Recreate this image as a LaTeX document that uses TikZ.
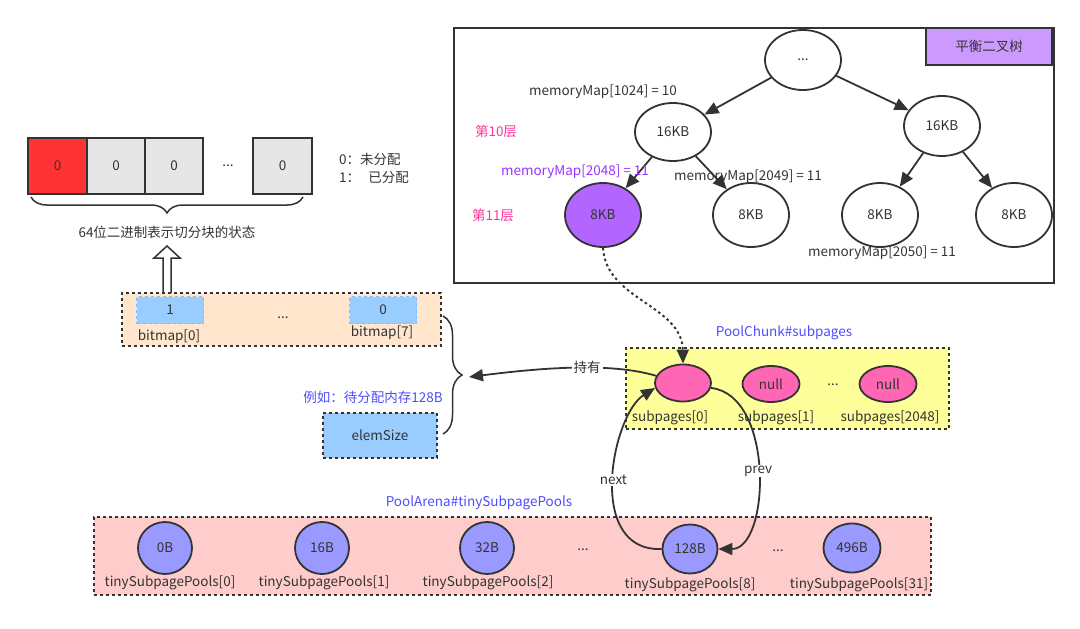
\documentclass[tikz,border=0pt]{standalone}
\usepackage{fontspec}
\setmainfont{Noto Sans CJK SC}
\usetikzlibrary{arrows.meta,shapes.geometric,decorations.pathreplacing}
\definecolor{ink}{HTML}{333333}
\definecolor{cellred}{HTML}{FF3333}
\definecolor{cellgray}{HTML}{E6E6E6}
\definecolor{treepurple}{HTML}{B266FF}
\definecolor{tagpurple}{HTML}{CC99FF}
\definecolor{bmorange}{HTML}{FFE6CC}
\definecolor{lblue}{HTML}{99CCFF}
\definecolor{lbluedash}{HTML}{7FBFFF}
\definecolor{lyellow}{HTML}{FFFF99}
\definecolor{lpink}{HTML}{FFCCCC}
\definecolor{spink}{HTML}{FF66B3}
\definecolor{pviolet}{HTML}{9999FF}
\definecolor{titleblue}{HTML}{4D4DFF}
\definecolor{magenta}{HTML}{FF3399}
\definecolor{mpurple}{HTML}{9933FF}
\begin{document}
\begin{tikzpicture}[x=1pt,y=-1pt,
  every node/.style={font=\fontsize{13.5}{16}\selectfont, text=ink, inner sep=0pt},
  tnode/.style={ellipse, draw=ink, line width=1.8pt, fill=white, minimum width=76pt, minimum height=60pt},
  arr/.style={draw=ink, line width=1.8pt, -{Triangle[length=14pt,width=12pt]}},
  dbox/.style={rectangle, draw=ink, line width=2pt, dash pattern=on 3pt off 3pt, anchor=north west},
  cellbox/.style={rectangle, draw=ink, line width=2pt, minimum height=56pt, anchor=north west},
  bluebox/.style={rectangle, fill=lblue, draw=lbluedash, line width=1pt, dashed, minimum width=67pt, minimum height=27pt, anchor=north west},
  subell/.style={ellipse, draw=ink, line width=1.8pt, fill=spink, minimum width=56pt, minimum height=37pt},
  poolell/.style={ellipse, draw=ink, line width=1.8pt, fill=pviolet, minimum width=54pt, minimum height=52pt},
  hint/.style={text=titleblue}
]
\useasboundingbox (0,0) rectangle (1080,629);

% ---------- tree panel ----------
\node[rectangle, draw=ink, line width=2pt, minimum width=600pt, minimum height=255pt, anchor=north west] (treebox) at (453,27) {};
\node[rectangle, draw=ink, line width=2pt, fill=tagpurple, minimum width=126pt, minimum height=37pt, anchor=north east] (tag) at (1053,27) {平衡二叉树};

\node[tnode] (root) at (803,60) {...};
\node[tnode, minimum height=58pt] (l16) at (673,132) {16KB};
\node[tnode] (r16) at (942,126) {16KB};
\node[tnode, fill=treepurple, minimum height=64pt] (p8) at (603,215) {8KB};
\node[tnode, minimum height=64pt] (a8) at (751,215) {8KB};
\node[tnode, minimum height=64pt] (b8) at (880,215) {8KB};
\node[tnode, minimum height=64pt] (c8) at (1014,215) {8KB};

\draw[arr] (root) -- (l16);
\draw[arr] (root) -- (r16);
\draw[arr] (l16) -- (p8);
\draw[arr] (l16) -- (a8);
\draw[arr] (r16) -- (b8);
\draw[arr] (r16) -- (c8);

\node (mm1024) at (603,92) {memoryMap[1024] = 10};
\node[text=magenta] (lv10) at (496,131) {第10层};
\node[text=mpurple] (mm2048) at (575,172) {memoryMap[2048] = 11};
\node (mm2049) at (748,177) {memoryMap[2049] = 11};
\node[text=magenta] (lv11) at (493,215) {第11层};
\node (mm2050) at (882,253) {memoryMap[2050] = 11};

% ---------- 64-bit cells ----------
\node[cellbox, fill=cellred, minimum width=59pt] (c0) at (27,137) {};
\node at (c0.center) {0};
\node[cellbox, fill=cellgray, minimum width=58pt] (c1) at (86,137) {0};
\node[cellbox, fill=cellgray, minimum width=58pt] (c2) at (144,137) {0};
\node (cdots) at (228,166) {...};
\node[cellbox, fill=cellgray, minimum width=59pt] (c63) at (252,137) {0};
\node[anchor=west] (leg0) at (339,159) {0：未分配};
\node[anchor=west] (leg1) at (339,178) {1：\hspace{0.6em}已分配};

\draw[ink, line width=1.5pt, decorate, decoration={brace, amplitude=16pt}] (303,197) -- (31,197);
\node (bitsdesc) at (167,232) {64位二进制表示切分块的状态};

% hollow up arrow
\coordinate (hb) at (167,295);
\draw[ink, line width=1.5pt, fill=white, line join=miter]
  (163,295) -- (163,258) -- (154,258) -- (167,246) -- (180,258) -- (171,258) -- (171,295);

% ---------- bitmap ----------
\node[dbox, fill=bmorange, minimum width=319pt, minimum height=53pt] (bm) at (121,292) {};
\node[bluebox] (bm0) at (136,296) {1};
\node[bluebox] (bm7) at (349,296) {0};
\node (bmdots) at (283,318) {...};
\node (bm0l) at (169,337) {bitmap[0]};
\node (bm7l) at (382,333) {bitmap[7]};

\node[hint] (eg) at (373,397) {例如：待分配内存128B};
\node[dbox, fill=lblue, minimum width=114pt, minimum height=45pt] (es) at (322,412) {};
\node at (es.center) {elemSize};

\draw[ink, line width=1.5pt, decorate, decoration={brace, amplitude=19pt}] (443,316) -- (443,434);
\coordinate (brtip) at (469,377);

% ---------- PoolChunk#subpages ----------
\node[hint] (pcl) at (784,333) {PoolChunk\#subpages};
\node[dbox, fill=lyellow, minimum width=323pt, minimum height=81pt] (ybox) at (625,347) {};
\node[subell] (sp0) at (683,383) {};
\node[subell, minimum width=57pt, minimum height=36pt] (sp1) at (771,384) {null};
\node (spdots) at (833,385) {...};
\node[subell, minimum width=57pt, minimum height=36pt] (sp2048) at (888,384) {null};
\node (sp0l) at (670,418) {subpages[0]};
\node (sp1l) at (776,418) {subpages[1]};
\node (sp2048l) at (890,418) {subpages[2048]};

% ---------- PoolArena#tinySubpagePools ----------
\node[hint] (pal) at (479,503) {PoolArena\#tinySubpagePools};
\node[dbox, fill=lpink, minimum width=837pt, minimum height=78pt] (pbox) at (93,516) {};
\node[poolell] (t0) at (165,548) {0B};
\node[poolell] (t1) at (322,548) {16B};
\node[poolell] (t2) at (487,548) {32B};
\node (tdots1) at (583,550) {...};
\node[poolell, minimum width=55pt, minimum height=49pt] (t8) at (690,549) {128B};
\node (tdots2) at (778,551) {...};
\node[poolell, minimum width=57pt, minimum height=49pt] (t31) at (852,548) {496B};
\node (t0l) at (170,583) {tinySubpagePools[0]};
\node (t1l) at (324,583) {tinySubpagePools[1]};
\node (t2l) at (488,583) {tinySubpagePools[2]};
\node (t8l) at (690,585) {tinySubpagePools[8]};
\node (t31l) at (859,585) {tinySubpagePools[31]};

% ---------- connectors ----------
\draw[arr, line width=2pt, dash pattern=on 2.5pt off 3pt] (p8.south) .. controls (606,300) and (682,305) .. (sp0.north);
\draw[arr] (sp0.165) .. controls (610,362) and (540,368) .. node[pos=0.42, fill=white, inner xsep=2pt, inner ysep=1pt] {持有} (brtip);
\draw[arr] (t8.west) .. controls (585,552) and (612,415) .. node[pos=0.5, fill=white, inner sep=1pt] {next} (sp0.190);
\draw[arr] (sp0.-10) .. controls (775,395) and (770,549) .. node[pos=0.5, fill=white, inner sep=1pt] {prev} (t8.east);

\end{tikzpicture}
\end{document}
